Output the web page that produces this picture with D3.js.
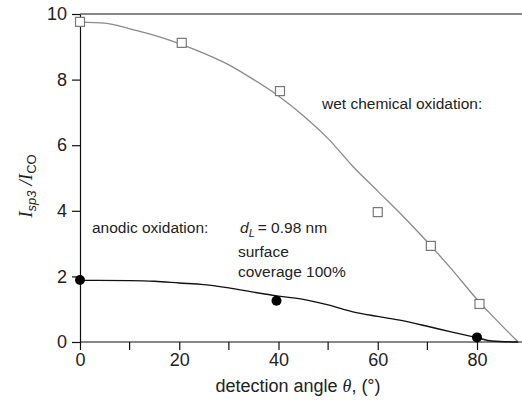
<!DOCTYPE html>
<html><head><meta charset="utf-8">
<script src="https://cdn.jsdelivr.net/npm/d3@7"></script>
<style>body{margin:0;background:#fff}text{font-family:"Liberation Sans",Arial,sans-serif;fill:#222}</style>
</head><body><svg id="c" width="522" height="405"></svg>
<script>
const xTicks = [0, 20, 40, 60, 80];
const xMinorTicks = [10, 30, 50, 70];
const yTicks = [0, 2, 4, 6, 8, 10];
const wetAngles = [0, 20.5, 40.3, 60, 70.7, 80.5];
const wetValues = [9.76, 9.12, 7.65, 3.96, 2.93, 1.16];
const anodicAngles = [0, 39.6, 80];
const anodicValues = [1.89, 1.26, 0.14];
const wetFitAngles = [0, 5, 10, 15, 20, 25, 30, 35, 40, 45, 50, 55, 60, 65, 70, 75, 80, 85, 88.3];
const wetFitValues = [9.75, 9.72, 9.55, 9.35, 9.1, 8.8, 8.45, 8.0, 7.5, 6.9, 6.2, 5.35, 4.6, 3.85, 3.05, 2.2, 1.3, 0.5, 0];
const anodicFitAngles = [0, 10, 15, 20, 25, 30, 35, 40, 45, 50, 55, 60, 65, 70, 75, 80, 83, 88.3];
const anodicFitValues = [1.88, 1.87, 1.85, 1.8, 1.75, 1.65, 1.52, 1.4, 1.3, 1.13, 0.92, 0.78, 0.65, 0.48, 0.3, 0.13, 0.03, 0];

const svg = d3.select("#c");
const x = d3.scaleLinear().domain([0, 80]).range([80, 477]);
const y = d3.scaleLinear().domain([0, 10]).range([342, 14]);
const xEnd = 522;
const ann = 15.5;

svg.append("line").attr("x1", 80).attr("x2", xEnd).attr("y1", y(10)).attr("y2", y(10))
  .attr("stroke", "#111").attr("stroke-width", 1.2);

const gx = svg.append("g").attr("transform", `translate(0,${y(0)})`)
  .call(d3.axisBottom(x).tickValues(xTicks).tickSize(8).tickSizeOuter(0).tickPadding(3));
gx.append("g").selectAll("line").data(xMinorTicks).join("line")
  .attr("x1", d => x(d)).attr("x2", d => x(d)).attr("y1", 0).attr("y2", 8).attr("stroke", "#111");
gx.select(".domain").attr("d", `M80,0H${xEnd}`);
gx.selectAll("path,line").attr("stroke", "#111").attr("stroke-width", 1.2);
gx.selectAll("text").attr("font-size", 18).attr("fill", "#222").style("font-family", "Liberation Sans, Arial, sans-serif");

const gy = svg.append("g").attr("transform", `translate(80,0)`)
  .call(d3.axisLeft(y).tickValues(yTicks).tickSize(8).tickSizeOuter(0).tickPadding(5));
gy.selectAll("path,line").attr("stroke", "#111").attr("stroke-width", 1.2);
gy.selectAll("text").attr("font-size", 18).attr("fill", "#222").style("font-family", "Liberation Sans, Arial, sans-serif");

const line = d3.line().x(d => x(d[0])).y(d => y(d[1])).curve(d3.curveMonotoneX);
svg.append("path").datum(wetFitAngles.map((a, i) => [a, wetFitValues[i]]))
  .attr("d", line).attr("fill", "none").attr("stroke", "#8a8a8a").attr("stroke-width", 1.3);
svg.append("path").datum(anodicFitAngles.map((a, i) => [a, anodicFitValues[i]]))
  .attr("d", line).attr("fill", "none").attr("stroke", "#111").attr("stroke-width", 1.4);

svg.append("g").selectAll("rect").data(wetAngles.map((a, i) => [a, wetValues[i]])).join("rect")
  .attr("x", d => x(d[0]) - 4.5).attr("y", d => y(d[1]) - 4.5).attr("width", 9).attr("height", 9)
  .attr("fill", "#fff").attr("stroke", "#777").attr("stroke-width", 1.2);
svg.append("g").selectAll("circle").data(anodicAngles.map((a, i) => [a, anodicValues[i]])).join("circle")
  .attr("cx", d => x(d[0])).attr("cy", d => y(d[1])).attr("r", 5).attr("fill", "#000");

svg.append("text").attr("x", 322).attr("y", 109).attr("font-size", ann).text("wet chemical oxidation:");
svg.append("text").attr("x", 92).attr("y", 233).attr("font-size", ann).text("anodic oxidation:");
const dl = svg.append("text").attr("x", 240).attr("y", 233).attr("font-size", ann);
dl.append("tspan").attr("font-style", "italic").text("d");
dl.append("tspan").attr("font-style", "italic").attr("font-size", 11).attr("dy", 4).text("L");
dl.append("tspan").attr("dy", -4).attr("dx", 3).text("= 0.98 nm");
svg.append("text").attr("x", 238).attr("y", 257).attr("font-size", ann).text("surface");
svg.append("text").attr("x", 238).attr("y", 277).attr("font-size", ann).text("coverage 100%");

const xl = svg.append("text").attr("x", 298).attr("y", 392).attr("text-anchor", "middle").attr("font-size", 18);
xl.append("tspan").text("detection angle ");
xl.append("tspan").attr("font-family", "Liberation Serif, Times New Roman, serif").attr("font-style", "italic").text("θ");
xl.append("tspan").text(", (°)");

const yl = svg.append("text").attr("transform", "translate(32,186) rotate(-90)").attr("text-anchor", "middle").attr("font-size", 19);
yl.append("tspan").attr("font-family", "Liberation Serif, Times New Roman, serif").attr("font-style", "italic").text("I");
yl.append("tspan").attr("font-style", "italic").attr("font-size", 13).attr("dy", 4).text("sp3");
yl.append("tspan").attr("dy", -4).attr("dx", 5).attr("font-family", "Liberation Serif, Times New Roman, serif").attr("font-style", "italic").text("/I");
yl.append("tspan").attr("font-size", 13).attr("dy", 4).text("CO");
</script></body></html>
